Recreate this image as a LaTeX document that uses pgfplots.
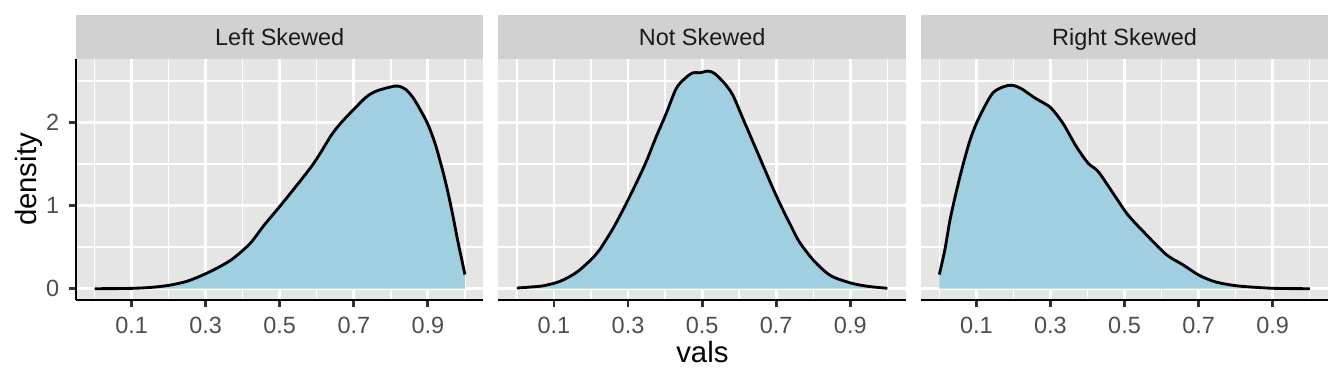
\documentclass[border=0pt]{standalone}
\usepackage{fontspec}
\setmainfont{Liberation Sans}
\usepackage{pgfplots}
\usepackage{pgfplotstable}
\pgfplotsset{compat=1.18}
\definecolor{panelbg}{HTML}{E5E5E5}
\definecolor{stripbg}{HTML}{D1D1D1}
\definecolor{fillblue}{HTML}{9FCFE0}
\definecolor{ticklab}{HTML}{4D4D4D}
\definecolor{tickcol}{HTML}{333333}
\definecolor{striptext}{HTML}{1A1A1A}

\pgfplotstableread{
x y
0 0
0.05 0.001
0.1 0.004
0.15 0.015
0.2 0.04
0.25 0.09
0.3 0.18
0.34 0.27
0.37 0.35
0.4 0.46
0.425 0.57
0.457 0.76
0.5 0.99
0.547 1.25
0.587 1.48
0.612 1.65
0.641 1.86
0.668 2.01
0.7 2.16
0.734 2.31
0.761 2.38
0.8 2.43
0.82 2.44
0.84 2.40
0.86 2.30
0.88 2.15
0.9 1.98
0.92 1.74
0.94 1.42
0.95 1.24
0.96 1.04
0.97 0.82
0.98 0.59
0.99 0.38
1.0 0.17
}\leftdata

\pgfplotstableread{
x y
0 0.008
0.036 0.02
0.072 0.036
0.117 0.09
0.162 0.2
0.207 0.38
0.2236 0.47
0.26 0.73
0.291 0.99
0.322 1.27
0.349 1.53
0.376 1.83
0.403 2.11
0.43 2.41
0.453 2.53
0.475 2.6
0.493 2.6
0.516 2.62
0.534 2.59
0.561 2.47
0.583 2.33
0.61 2.05
0.637 1.77
0.664 1.49
0.691 1.21
0.718 0.95
0.745 0.71
0.763 0.56
0.801 0.34
0.846 0.16
0.9 0.07
0.945 0.03
1.0 0.005
}\middata

\pgfplotstableread{
x y
0 0.17
0.015 0.47
0.029 0.83
0.047 1.19
0.065 1.51
0.083 1.79
0.1 1.99
0.122 2.19
0.145 2.36
0.172 2.43
0.196 2.45
0.221 2.41
0.257 2.30
0.284 2.23
0.303 2.17
0.334 1.99
0.37 1.71
0.402 1.51
0.429 1.41
0.469 1.15
0.509 0.89
0.559 0.65
0.613 0.41
0.657 0.29
0.702 0.16
0.747 0.08
0.801 0.036
0.855 0.016
0.9 0.005
0.955 0.001
1.0 0.0
}\rightdata

\tikzset{
  striplabel/.style={font=\fontsize{8.8}{10.5}\selectfont, text=striptext, anchor=base, inner sep=0pt},
}
\pgfplotsset{
  facet/.style={
    scale only axis, width=152.8pt, height=90.4pt,
    anchor=south west,
    xmin=-0.05, xmax=1.05, ymin=-0.136, ymax=2.767,
    axis background/.style={fill=panelbg},
    axis line style={draw=none},
    xtick={0.1,0.3,0.5,0.7,0.9},
    xticklabels={0.1,0.3,0.5,0.7,0.9},
    minor xtick={0,0.2,0.4,0.6,0.8,1},
    ytick={0,1,2},
    minor ytick={0.5,1.5,2.5},
    grid=both,
    major grid style={white, line width=1.07pt},
    minor grid style={white, line width=0.53pt},
    tick align=outside,
    major tick length=2.75pt,
    minor tick length=0pt,
    tick pos=left,
    tick style={color=tickcol, line width=1.07pt},
    /pgf/number format/assume math mode=true,
    tick label style={font=\fontsize{8.8}{10.5}\selectfont, text=ticklab},
    clip=false,
  },
}

\begin{document}
\begin{tikzpicture}
\useasboundingbox (0,0) rectangle (504pt,144pt);

% Panel 1
\begin{axis}[facet, at={(28.5pt,31.5pt)}, yticklabels={0,1,2}]
  \addplot[fill=fillblue, draw=none, smooth] table {\leftdata} \closedcycle;
  \addplot[black, line width=1.07pt, smooth] table {\leftdata};
  \draw[black, line width=1.07pt] (rel axis cs:0,0) -- (rel axis cs:1,0);
  \draw[black, line width=1.07pt] (rel axis cs:0,0) -- (rel axis cs:0,1);
  \fill[stripbg] (rel axis cs:0,1) rectangle ([yshift=16.5pt]rel axis cs:1,1);
  \node[striplabel] at ([yshift=5pt]rel axis cs:0.5,1) {Left Skewed};
\end{axis}

% Panel 2
\begin{axis}[facet, at={(186.9pt,31.5pt)}, yticklabels={}, ytick style={draw=none}]
  \addplot[fill=fillblue, draw=none, smooth] table {\middata} \closedcycle;
  \addplot[black, line width=1.07pt, smooth] table {\middata};
  \draw[black, line width=1.07pt] (rel axis cs:0,0) -- (rel axis cs:1,0);
  \fill[stripbg] (rel axis cs:0,1) rectangle ([yshift=16.5pt]rel axis cs:1,1);
  \node[striplabel] at ([yshift=5pt]rel axis cs:0.5,1) {Not Skewed};
\end{axis}

% Panel 3
\begin{axis}[facet, at={(345.3pt,31.5pt)}, yticklabels={}, ytick style={draw=none}]
  \addplot[fill=fillblue, draw=none, smooth] table {\rightdata} \closedcycle;
  \addplot[black, line width=1.07pt, smooth] table {\rightdata};
  \draw[black, line width=1.07pt] (rel axis cs:0,0) -- (rel axis cs:1,0);
  \fill[stripbg] (rel axis cs:0,1) rectangle ([yshift=16.5pt]rel axis cs:1,1);
  \node[striplabel] at ([yshift=5pt]rel axis cs:0.5,1) {Right Skewed};
\end{axis}

\node[rotate=90, font=\fontsize{11}{13}\selectfont] at (10.7pt,76.7pt) {density};
\node[anchor=base, font=\fontsize{11}{13}\selectfont] at (263.4pt,8.1pt) {vals};
\end{tikzpicture}
\end{document}
